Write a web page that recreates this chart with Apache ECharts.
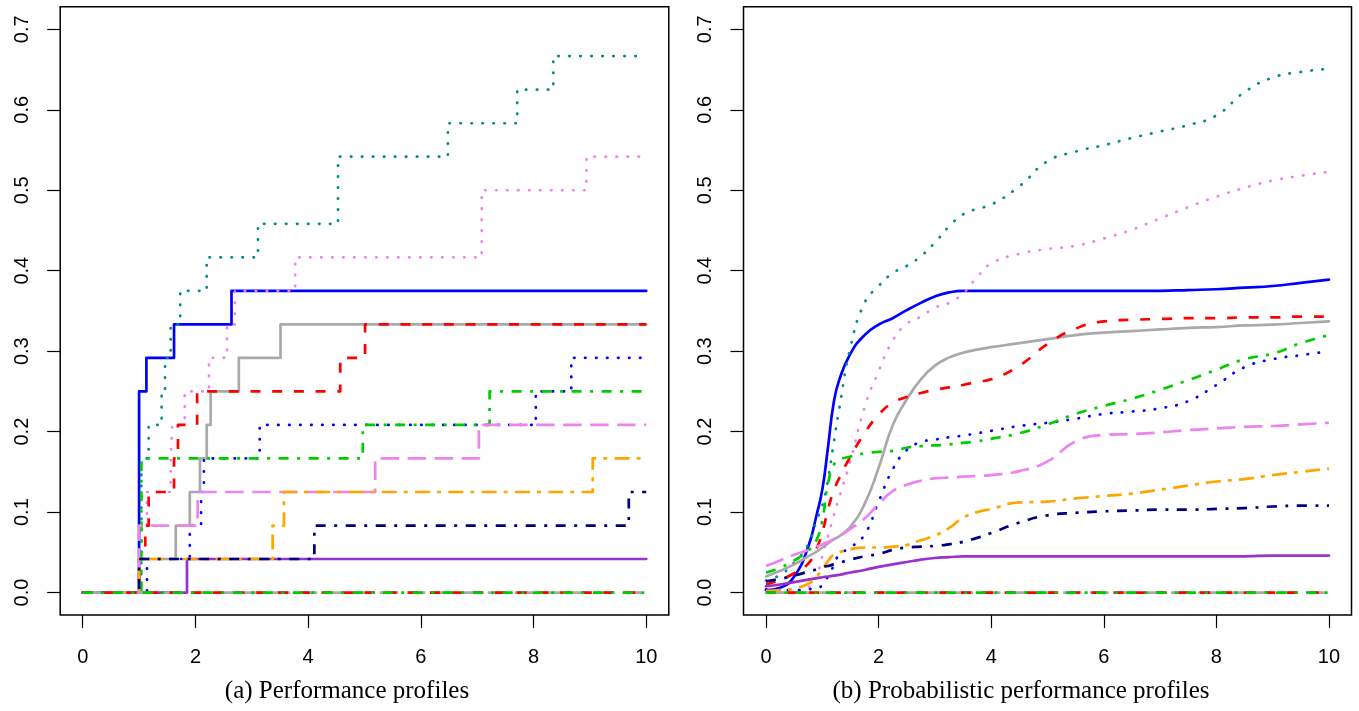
<!DOCTYPE html>
<html>
<head>
<meta charset="utf-8">
<title>Performance profiles</title>
<script src="https://cdn.jsdelivr.net/npm/echarts@6/dist/echarts.min.js"></script>
<style>
  html, body { margin: 0; padding: 0; background: #fff; }
  #main { width: 1359px; height: 711px; }
</style>
</head>
<body>
<div id="main"></div>
<script>
// (a) performance profiles: breakpoints [tau, fraction of problems solved]
var ppBlue       = [[0, 0], [1.00, 0.2500], [1.13, 0.2917], [1.62, 0.3333], [2.64, 0.3750], [10, 0.3750]];
var ppTeal       = [[0, 0], [1.04, 0.1667], [1.17, 0.2083], [1.40, 0.2500], [1.46, 0.2917], [1.56, 0.3333], [1.73, 0.3750],
                    [2.20, 0.4167], [3.11, 0.4583], [4.53, 0.5417], [6.48, 0.5833], [7.71, 0.6250], [8.35, 0.6667], [10, 0.6667]];
var ppVioletDot  = [[0, 0], [1.00, 0.0833], [1.14, 0.1250], [1.56, 0.1667], [1.59, 0.2083], [1.81, 0.2500], [2.24, 0.2917],
                    [2.56, 0.3333], [2.70, 0.3750], [3.77, 0.4167], [7.08, 0.5000], [8.94, 0.5417], [10, 0.5417]];
var ppGray       = [[0, 0], [1.00, 0.0417], [1.65, 0.0833], [1.90, 0.1250], [2.08, 0.1667], [2.20, 0.2083], [2.27, 0.2500],
                    [2.77, 0.2917], [3.51, 0.3333], [10, 0.3333]];
var ppRed        = [[0, 0], [1.00, 0.0417], [1.11, 0.0833], [1.17, 0.1250], [1.62, 0.1667], [1.69, 0.2083], [2.03, 0.2500],
                    [4.57, 0.2917], [5.01, 0.3333], [10, 0.3333]];
var ppBlueDot    = [[0, 0], [1.14, 0.0417], [1.90, 0.0833], [2.10, 0.1250], [2.15, 0.1667], [3.14, 0.2083], [8.04, 0.2500],
                    [8.67, 0.2917], [10, 0.2917]];
var ppGreen      = [[0, 0], [1.04, 0.1667], [4.97, 0.2083], [7.22, 0.2500], [10, 0.2500]];
var ppVioletDash = [[0, 0], [1.00, 0.0833], [2.04, 0.1250], [5.19, 0.1667], [7.03, 0.2083], [10, 0.2083]];
var ppPurple     = [[0, 0], [1.85, 0.0417], [10, 0.0417]];
var ppOrange     = [[0, 0], [1.00, 0.0417], [3.37, 0.0833], [3.57, 0.1250], [9.05, 0.1667], [10, 0.1667]];
var ppNavy       = [[0, 0], [1.00, 0.0417], [4.11, 0.0833], [9.69, 0.1250], [10, 0.1250]];
var ppZero       = [[0, 0], [10, 0]];

// (b) probabilistic performance profiles, read on a common tau grid
var tau = [0, 0.25, 0.5, 0.75, 0.9, 1.0, 1.1, 1.2, 1.3, 1.5, 1.75, 2, 2.25, 2.5, 2.75, 3, 3.25, 3.5, 3.75, 4,
           4.5, 5, 5.5, 6, 6.5, 7, 7.5, 8, 8.5, 9, 9.5, 10];
var pbBlue       = [0.003, 0.006, 0.020, 0.057, 0.097, 0.128, 0.180, 0.235, 0.264, 0.297, 0.320, 0.333, 0.341, 0.351, 0.360, 0.368,
                    0.373, 0.375, 0.375, 0.375, 0.375, 0.375, 0.375, 0.375, 0.375, 0.375, 0.376, 0.377, 0.379, 0.381, 0.385, 0.389];
var pbTeal       = [0.015, 0.022, 0.037, 0.060, 0.090, 0.108, 0.140, 0.185, 0.228, 0.305, 0.360, 0.381, 0.397, 0.406, 0.418, 0.435,
                    0.455, 0.470, 0.477, 0.482, 0.505, 0.536, 0.548, 0.556, 0.565, 0.573, 0.581, 0.593, 0.622, 0.640, 0.647, 0.651];
var pbVioletDot  = [0.000, 0.000, 0.001, 0.006, 0.022, 0.045, 0.070, 0.095, 0.118, 0.164, 0.230, 0.275, 0.313, 0.334, 0.343, 0.354,
                    0.360, 0.372, 0.392, 0.409, 0.421, 0.427, 0.431, 0.440, 0.451, 0.465, 0.479, 0.492, 0.503, 0.512, 0.518, 0.523];
var pbGray       = [0.020, 0.027, 0.035, 0.045, 0.051, 0.056, 0.061, 0.066, 0.070, 0.082, 0.110, 0.155, 0.208, 0.240, 0.265, 0.282,
                    0.292, 0.298, 0.302, 0.305, 0.310, 0.315, 0.320, 0.323, 0.325, 0.327, 0.329, 0.330, 0.332, 0.333, 0.335, 0.337];
var pbRed        = [0.010, 0.016, 0.024, 0.036, 0.055, 0.075, 0.103, 0.126, 0.142, 0.169, 0.198, 0.221, 0.236, 0.243, 0.248, 0.252,
                    0.255, 0.258, 0.262, 0.265, 0.282, 0.309, 0.328, 0.337, 0.339, 0.340, 0.341, 0.341, 0.342, 0.342, 0.343, 0.343];
var pbBlueDot    = [0.004, 0.003, 0.003, 0.004, 0.006, 0.009, 0.020, 0.033, 0.047, 0.056, 0.072, 0.113, 0.153, 0.177, 0.187, 0.190,
                    0.193, 0.195, 0.198, 0.201, 0.207, 0.211, 0.216, 0.222, 0.225, 0.229, 0.238, 0.258, 0.280, 0.290, 0.295, 0.300];
var pbGreen      = [0.025, 0.031, 0.040, 0.052, 0.066, 0.090, 0.135, 0.158, 0.165, 0.169, 0.173, 0.175, 0.176, 0.180, 0.182, 0.183,
                    0.184, 0.186, 0.188, 0.191, 0.198, 0.209, 0.222, 0.232, 0.241, 0.252, 0.264, 0.277, 0.290, 0.297, 0.310, 0.320];
var pbVioletDash = [0.033, 0.040, 0.047, 0.053, 0.057, 0.060, 0.063, 0.066, 0.070, 0.079, 0.092, 0.110, 0.126, 0.134, 0.139, 0.142,
                    0.143, 0.144, 0.145, 0.146, 0.151, 0.163, 0.188, 0.196, 0.197, 0.199, 0.202, 0.204, 0.206, 0.207, 0.209, 0.211];
var pbPurple     = [0.008, 0.010, 0.013, 0.016, 0.018, 0.019, 0.020, 0.021, 0.022, 0.025, 0.028, 0.032, 0.035, 0.038, 0.041, 0.043,
                    0.044, 0.045, 0.045, 0.045, 0.045, 0.045, 0.045, 0.045, 0.045, 0.045, 0.045, 0.045, 0.045, 0.046, 0.046, 0.046];
var pbOrange     = [0.002, 0.003, 0.005, 0.011, 0.020, 0.029, 0.039, 0.047, 0.050, 0.054, 0.056, 0.056, 0.057, 0.059, 0.065, 0.071,
                    0.080, 0.093, 0.100, 0.104, 0.112, 0.113, 0.117, 0.120, 0.123, 0.128, 0.133, 0.138, 0.141, 0.146, 0.150, 0.154];
var pbNavy       = [0.014, 0.017, 0.021, 0.026, 0.029, 0.032, 0.033, 0.035, 0.037, 0.041, 0.045, 0.048, 0.053, 0.056, 0.057, 0.058,
                    0.060, 0.063, 0.068, 0.074, 0.087, 0.096, 0.099, 0.101, 0.102, 0.103, 0.103, 0.104, 0.105, 0.107, 0.108, 0.108];

var xTicks = [0, 2, 4, 6, 8, 10];
var yTicks = [0, 0.1, 0.2, 0.3, 0.4, 0.5, 0.6, 0.7];
var captions = ['(a) Performance profiles', '(b) Probabilistic performance profiles'];

// R-like line types (visual dash lengths in px)
var lty = {
    solid:    { type: 'solid', cap: 'round' },
    dotted:   { type: [0.5, 10.5], cap: 'round' },
    dashed:   { type: [10, 11.7], cap: 'butt' },
    longdash: { type: [18.5, 8.5], cap: 'butt' },
    dotdash:  { type: [10, 8.5, 3, 8.5], cap: 'butt' },
    twodash:  { type: [15, 7, 4, 7.3], cap: 'butt' }
};

// drawing order as in the original plot
var curves = [
    { color: '#0000FF', lty: 'solid',    step: ppBlue,       prob: pbBlue },
    { color: '#008B8B', lty: 'dotted',   step: ppTeal,       prob: pbTeal },
    { color: '#EE82EE', lty: 'dotted',   step: ppVioletDot,  prob: pbVioletDot },
    { color: '#A9A9A9', lty: 'solid',    step: ppGray,       prob: pbGray },
    { color: '#FF0000', lty: 'dashed',   step: ppRed,        prob: pbRed },
    { color: '#0000FF', lty: 'dotted',   step: ppBlueDot,    prob: pbBlueDot },
    { color: '#00CD00', lty: 'dotdash',  step: ppGreen,      prob: pbGreen },
    { color: '#EE82EE', lty: 'longdash', step: ppVioletDash, prob: pbVioletDash },
    { color: '#9932CC', lty: 'solid',    step: ppPurple,     prob: pbPurple },
    { color: '#FFA500', lty: 'twodash',  step: ppOrange,     prob: pbOrange },
    { color: '#000080', lty: 'dotdash',  step: ppNavy,       prob: pbNavy },
    { color: '#A9A9A9', lty: 'longdash', step: ppZero,       prob: null },
    { color: '#FF0000', lty: 'dashed',   step: ppZero,       prob: null },
    { color: '#00CD00', lty: 'dotdash',  step: ppZero,       prob: null }
];

var labelFont = { fontFamily: 'Liberation Sans', fontSize: 20, color: '#000' };

function makeX(i) {
    return {
        type: 'value', gridIndex: i, min: -0.4, max: 10.4,
        axisLine: { show: false, onZero: false },
        splitLine: { show: false },
        axisTick: { show: true, inside: false, length: 13, customValues: xTicks, lineStyle: { color: '#000', width: 1.2 } },
        axisLabel: Object.assign({ margin: 32, customValues: xTicks }, labelFont)
    };
}
function makeY(i) {
    return {
        type: 'value', gridIndex: i, min: -0.028, max: 0.728,
        axisLine: { show: false, onZero: false },
        splitLine: { show: false },
        axisTick: { show: true, inside: false, length: 13, customValues: yTicks, lineStyle: { color: '#000', width: 1.2 } },
        axisLabel: Object.assign({
            margin: 28, rotate: 90, customValues: yTicks,
            formatter: function (v) { return v.toFixed(1); }
        }, labelFont)
    };
}

var series = [];
curves.forEach(function (c) {
    var st = lty[c.lty];
    var ls = { color: c.color, width: 2.7, type: st.type, cap: st.cap, join: 'round' };
    series.push({
        type: 'line', xAxisIndex: 0, yAxisIndex: 0, step: 'end',
        data: c.step, showSymbol: false, symbol: 'none', lineStyle: ls, silent: true
    });
    var d = c.prob ? tau.map(function (t, k) { return [t, c.prob[k]]; }) : c.step;
    series.push({
        type: 'line', xAxisIndex: 1, yAxisIndex: 1, smooth: 0.5,
        data: d, showSymbol: false, symbol: 'none', lineStyle: ls, silent: true
    });
});

var chart = echarts.init(document.getElementById('main'));
chart.setOption({
    animation: false,
    backgroundColor: '#fff',
    grid: [
        { left: 60.2, top: 6.8, width: 608.6, height: 608.3, show: true, borderColor: '#000', borderWidth: 1.5 },
        { left: 743.5, top: 6.8, width: 608, height: 608.3, show: true, borderColor: '#000', borderWidth: 1.5 }
    ],
    xAxis: [makeX(0), makeX(1)],
    yAxis: [makeY(0), makeY(1)],
    series: series,
    graphic: [
        { type: 'text', x: 347, y: 691, style: { text: captions[0], font: '25px "Liberation Serif"', fill: '#000', align: 'center', verticalAlign: 'middle' } },
        { type: 'text', x: 1021, y: 691, style: { text: captions[1], font: '25px "Liberation Serif"', fill: '#000', align: 'center', verticalAlign: 'middle' } }
    ]
});
</script>
</body>
</html>
